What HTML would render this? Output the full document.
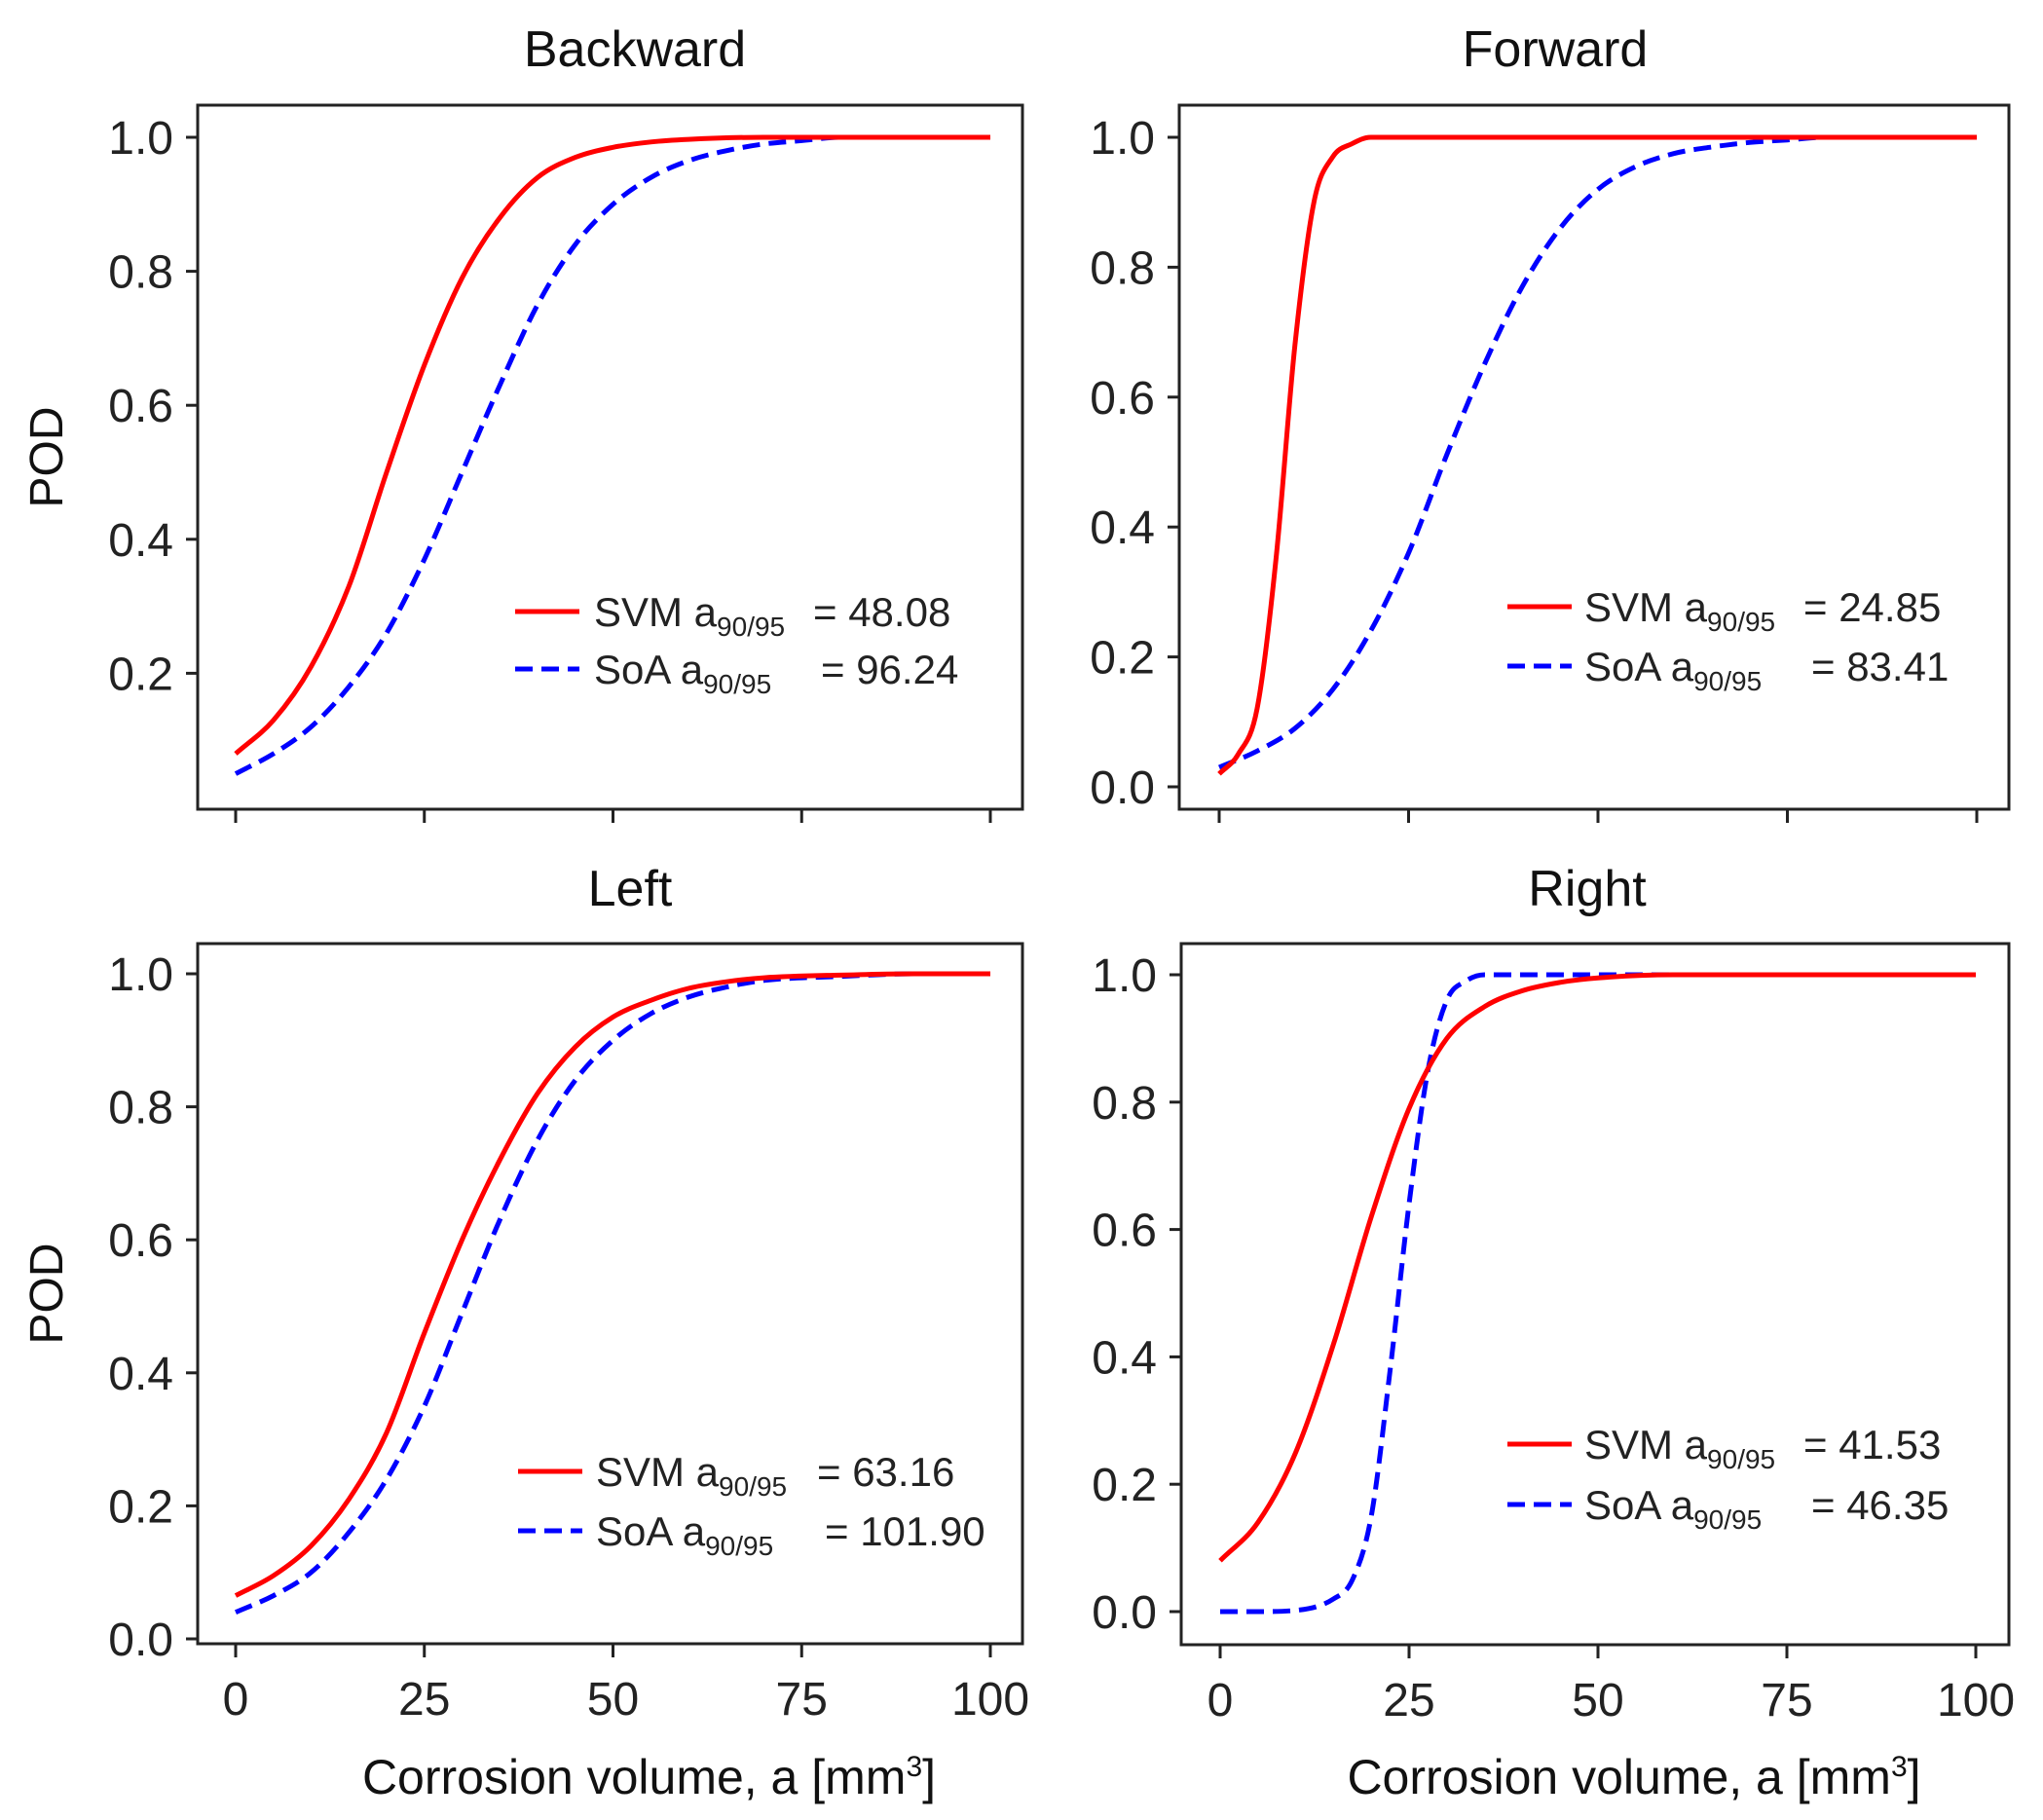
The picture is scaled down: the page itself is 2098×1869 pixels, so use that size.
<!DOCTYPE html>
<html><head><meta charset="utf-8"><style>
html,body{margin:0;padding:0;background:#fff;}
svg{display:block;font-family:"Liberation Sans",sans-serif;}
</style></head><body>
<svg id="fig" width="2098" height="1869" viewBox="0 0 2098 1869"></svg>
<script>
// ---- data ----
const xTicks = [0, 25, 50, 75, 100];
const xTickLabels = ["0", "25", "50", "75", "100"];
const yTicks = [0, 0.2, 0.4, 0.6, 0.8, 1.0];
const yTickLabels = ["0.0", "0.2", "0.4", "0.6", "0.8", "1.0"];

const backSvmX = [0,5,10,15,20,25,30,35,40,45,50,55,60,70,80,90,100];
const backSvmY = [0.08,0.13,0.21,0.33,0.50,0.66,0.79,0.88,0.94,0.97,0.985,0.993,0.997,1,1,1,1];
const backSoaX = [0,5,10,15,20,25,30,35,40,45,50,55,60,65,70,75,80,90,100];
const backSoaY = [0.05,0.08,0.12,0.18,0.26,0.37,0.50,0.63,0.75,0.84,0.90,0.94,0.965,0.98,0.99,0.995,1,1,1];

const fwdSvmX = [0,2.5,5,7.5,10,12.5,15,17.5,20,30,50,100];
const fwdSvmY = [0.02,0.05,0.12,0.35,0.68,0.90,0.97,0.99,1,1,1,1];
const fwdSoaX = [0,5,10,15,20,25,30,35,40,45,50,55,60,65,70,75,80,90,100];
const fwdSoaY = [0.03,0.055,0.09,0.15,0.24,0.36,0.51,0.65,0.77,0.86,0.92,0.955,0.975,0.985,0.992,0.996,1,1,1];

const leftSvmX = [0,5,10,15,20,25,30,35,40,45,50,55,60,65,70,80,90,100];
const leftSvmY = [0.065,0.095,0.14,0.21,0.31,0.46,0.60,0.72,0.82,0.89,0.935,0.96,0.978,0.988,0.994,0.998,1,1];
const leftSoaX = [0,5,10,15,20,25,30,35,40,45,50,55,60,65,70,80,90,100];
const leftSoaY = [0.04,0.065,0.10,0.16,0.24,0.35,0.49,0.63,0.75,0.84,0.90,0.94,0.965,0.98,0.99,0.996,1,1];

const rightSvmX = [0,5,10,15,20,25,30,35,40,45,50,60,80,100];
const rightSvmY = [0.08,0.14,0.25,0.42,0.62,0.79,0.90,0.95,0.975,0.988,0.995,1,1,1];
const rightSoaX = [0,5,10,15,17.5,20,22.5,25,27.5,30,32.5,35,40,60,100];
const rightSoaY = [0,0,0.002,0.02,0.05,0.15,0.38,0.64,0.85,0.96,0.99,1,1,1,1];

const panels = [
  {name:"backward", title:"Backward", box:[203,108,1050,831], x0:242, x100:1017, y0:829, y1:141, titleX:652, titleY:68,
   yFrom:1, xLabels:false, ylabel:true, svm:[backSvmX,backSvmY], soa:[backSoaX,backSoaY],
   leg:{lx:529, ly1:628, ly2:687, tx:610, ex:835, v1:"= 48.08", v2:"= 96.24"}},
  {name:"forward", title:"Forward", box:[1211,108,2063,831], x0:1252, x100:2030, y0:808, y1:141, titleX:1597, titleY:68,
   yFrom:0, xLabels:false, ylabel:false, svm:[fwdSvmX,fwdSvmY], soa:[fwdSoaX,fwdSoaY],
   leg:{lx:1548, ly1:623, ly2:684, tx:1627, ex:1852, v1:"= 24.85", v2:"= 83.41"}},
  {name:"left", title:"Left", box:[203,969,1050,1688], x0:242, x100:1017, y0:1683, y1:1000, titleX:647, titleY:930,
   yFrom:0, xLabels:true, ylabel:true, svm:[leftSvmX,leftSvmY], soa:[leftSoaX,leftSoaY],
   leg:{lx:532, ly1:1511, ly2:1572, tx:612, ex:839, v1:"= 63.16", v2:"= 101.90"}},
  {name:"right", title:"Right", box:[1213,969,2063,1689], x0:1253, x100:2029, y0:1655, y1:1001, titleX:1630, titleY:930,
   yFrom:0, xLabels:true, ylabel:false, svm:[rightSvmX,rightSvmY], soa:[rightSoaX,rightSoaY],
   leg:{lx:1548, ly1:1483, ly2:1545, tx:1627, ex:1852, v1:"= 41.53", v2:"= 46.35"}}
];

const NS = "http://www.w3.org/2000/svg";
const svg = document.getElementById("fig");
function mk(tag, attrs, parent){
  const e = document.createElementNS(NS, tag);
  for (const k in attrs) e.setAttribute(k, attrs[k]);
  (parent||svg).appendChild(e);
  return e;
}
// monotone cubic path through pixel points
function smoothPath(px, py){
  const n = px.length, d = [], m = new Array(n);
  for (let i=0;i<n-1;i++) d.push((py[i+1]-py[i])/(px[i+1]-px[i]));
  m[0]=d[0]; m[n-1]=d[n-2];
  for (let i=1;i<n-1;i++) m[i] = (d[i-1]*d[i] <= 0) ? 0 : (d[i-1]+d[i])/2;
  for (let i=0;i<n-1;i++){
    if (d[i]===0){ m[i]=0; m[i+1]=0; continue; }
    const a=m[i]/d[i], b=m[i+1]/d[i], s=a*a+b*b;
    if (s>9){ const t=3/Math.sqrt(s); m[i]=t*a*d[i]; m[i+1]=t*b*d[i]; }
  }
  let s = "M"+px[0].toFixed(1)+","+py[0].toFixed(1);
  for (let i=0;i<n-1;i++){
    const h=(px[i+1]-px[i])/3;
    s += " C"+(px[i]+h).toFixed(1)+","+(py[i]+m[i]*h).toFixed(1)+" "+(px[i+1]-h).toFixed(1)+","+(py[i+1]-m[i+1]*h).toFixed(1)+" "+px[i+1].toFixed(1)+","+py[i+1].toFixed(1);
  }
  return s;
}

panels.forEach(p => {
  const g = mk("g", {});
  
  
  const sx = v => p.x0 + (p.x100 - p.x0) * v / 100;
  const sy = v => p.y0 + (p.y1 - p.y0) * v;
  const [bx0, by0, bx1, by1] = p.box;

  const t = mk("text", {x:p.titleX, y:p.titleY, "text-anchor":"middle", "font-size":52, fill:"#111"}, g);
  t.textContent = p.title;
  
  

  const mkPath = (xs, ys) => smoothPath(xs.map(sx), ys.map(sy));
  const soa = mk("path", {d:mkPath(p.soa[0],p.soa[1]), fill:"none", stroke:"#0000ff", "stroke-width":5, "stroke-dasharray":"18,9", "stroke-linejoin":"round"}, g);
  
  
  const svm = mk("path", {d:mkPath(p.svm[0],p.svm[1]), fill:"none", stroke:"#ff0000", "stroke-width":5, "stroke-linejoin":"round"}, g);
  
  

  const fr = mk("rect", {x:bx0, y:by0, width:bx1-bx0, height:by1-by0, fill:"none", stroke:"#222", "stroke-width":3}, g);
  
  

  yTicks.forEach((v,i) => {
    if (i < p.yFrom) return;
    const y = sy(v);
    mk("line", {x1:bx0-12, x2:bx0, y1:y, y2:y, stroke:"#222", "stroke-width":3}, g);
    const lb = mk("text", {x:bx0-25, y:y+17, "text-anchor":"end", "font-size":48, fill:"#222"}, g);
    lb.textContent = yTickLabels[i];
    
    
  });
  xTicks.forEach((v,i) => {
    const x = sx(v);
    mk("line", {x1:x, x2:x, y1:by1, y2:by1+14, stroke:"#222", "stroke-width":3}, g);
    if (p.xLabels) {
      const lb = mk("text", {x:x, y:by1+73, "text-anchor":"middle", "font-size":48, fill:"#222"}, g);
      lb.textContent = xTickLabels[i];
      
      
    }
  });
  if (p.xLabels) {
    const xl = mk("text", {x:(bx0+bx1)/2+40, y:1842, "text-anchor":"middle", "font-size":50, fill:"#111"}, g);
    xl.innerHTML = 'Corrosion volume, a [mm<tspan dy="-18" font-size="30">3</tspan><tspan dy="18">]</tspan>';
    
    
  }
  if (p.ylabel) {
    const cy = (by0+by1)/2;
    const yl = mk("text", {x:0, y:0, transform:"translate(64,"+cy+") rotate(-90)", "text-anchor":"middle", "font-size":48, fill:"#111"}, g);
    yl.textContent = "POD";
    
    
  }

  const L = p.leg;
  const lg = mk("g", {}, g);
  
  
  mk("line", {x1:L.lx, x2:L.lx+66, y1:L.ly1, y2:L.ly1, stroke:"#ff0000", "stroke-width":5}, lg);
  mk("line", {x1:L.lx, x2:L.lx+66, y1:L.ly2, y2:L.ly2, stroke:"#0000ff", "stroke-width":5, "stroke-dasharray":"18,9"}, lg);
  const e1 = mk("text", {x:L.tx, y:L.ly1+15, "font-size":42, fill:"#222"}, lg);
  e1.innerHTML = 'SVM a<tspan dy="10" font-size="28">90/95</tspan>';
  
  
  const v1 = mk("text", {x:L.ex, y:L.ly1+15, "font-size":42, fill:"#222"}, lg);
  v1.textContent = L.v1;
  const e2 = mk("text", {x:L.tx, y:L.ly2+15, "font-size":42, fill:"#222"}, lg);
  e2.innerHTML = 'SoA a<tspan dy="10" font-size="28">90/95</tspan>';
  
  
  const v2 = mk("text", {x:L.ex+8, y:L.ly2+15, "font-size":42, fill:"#222"}, lg);
  v2.textContent = L.v2;
});
</script>
</body></html>
